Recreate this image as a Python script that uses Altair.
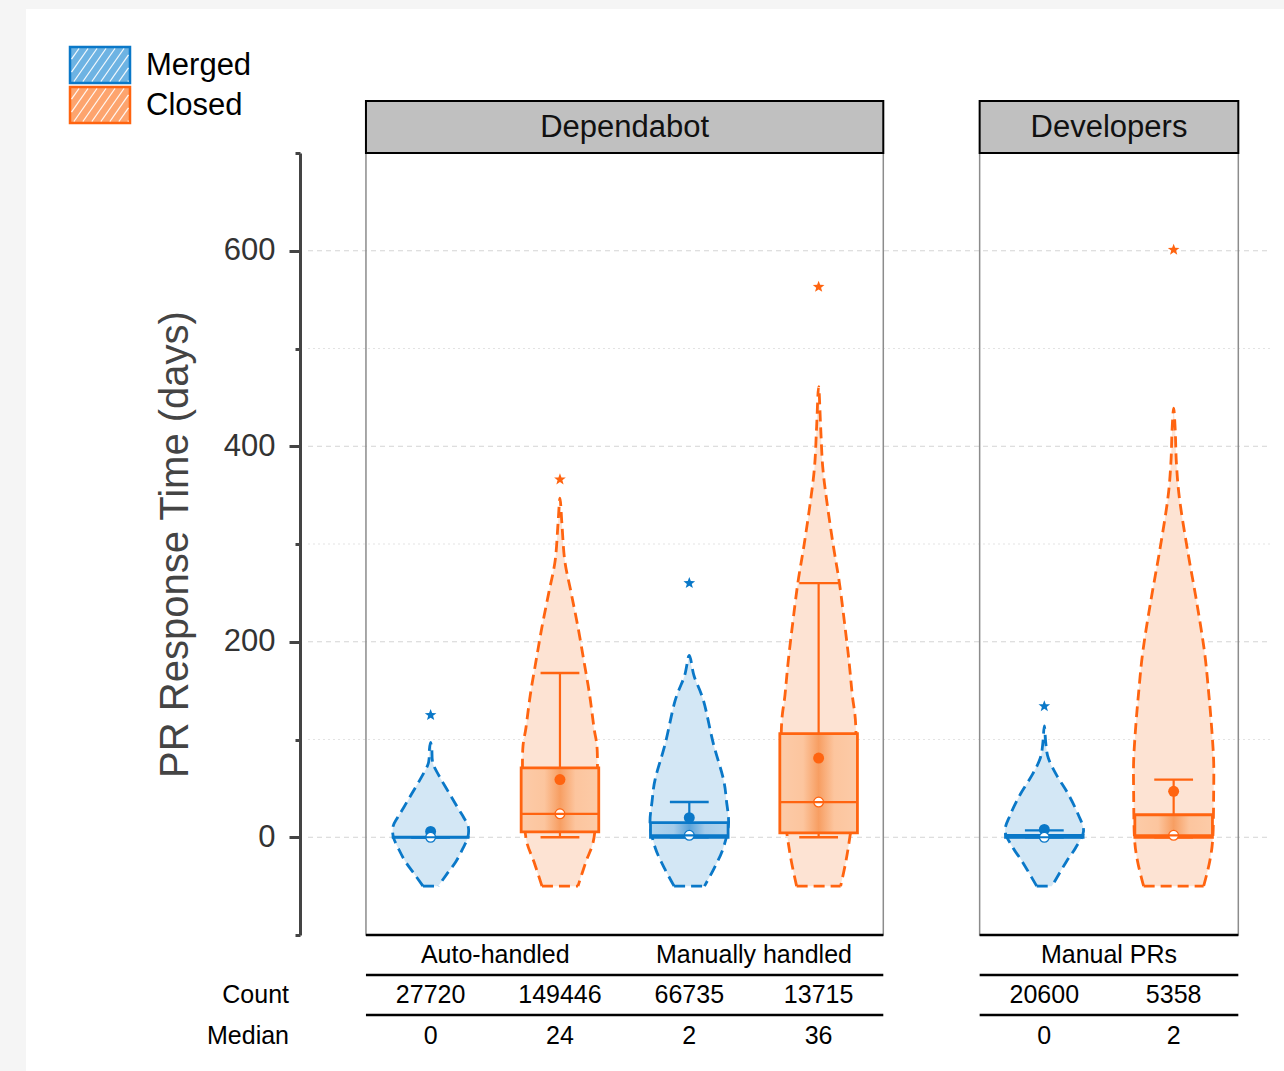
import math
import altair as alt
import pandas as pd

# ---------------- data ----------------
panel_names = ["Dependabot", "Developers"]
panel_slots = [4, 2]
group_names = ["Auto-handled", "Manually handled", "Manual PRs"]
group_panels = ["Dependabot", "Dependabot", "Developers"]
status_names = ["Merged", "Closed"]
row_labels = ["Count", "Median"]

series_group = ["Auto-handled", "Auto-handled", "Manually handled", "Manually handled",
                "Manual PRs", "Manual PRs"]
series_status = ["Merged", "Closed", "Merged", "Closed", "Merged", "Closed"]
counts = [27720, 149446, 66735, 13715, 20600, 5358]
medians = [0, 24, 2, 36, 0, 2]
means = [6, 59, 20, 81, 8, 47]
q1 = [0, 5.5, 0, 4.4, 0, 0]
q3 = [0, 71, 15, 106, 2, 23]
whisker_low = [0, 0, 0, 0, 0, 0]
whisker_high = [0, 168, 36, 260, 7, 59]
maxima = [125, 366, 260, 563, 134, 601]

# violin profiles: value (days) and relative half-width (0..1)
violin_values = [
    [-50, -38, -25, -12, 0, 11, 20, 30, 44, 60, 73, 80, 90, 97],
    [-50, -25, -5, 20, 50, 90, 112, 146, 180, 215, 250, 283, 320, 347],
    [-50, -31, -11, 13, 37, 60, 96, 139, 165, 186],
    [-50, -25, 0, 44, 112, 146, 180, 215, 260, 300, 345, 380, 420, 461],
    [-50, -25, -11, 6, 23, 44, 64, 81, 95, 114],
    [-50, -25, 0, 44, 78, 112, 146, 190, 242, 293, 345, 382, 416, 439],
]
violin_widths = [
    [.19, .40, .63, .80, .93, .94, .83, .68, .48, .25, .08, .04, .03, 0],
    [.45, .65, .83, .90, .93, .93, .85, .74, .60, .45, .28, .12, .05, 0],
    [.38, .63, .85, .98, .93, .85, .60, .36, .12, 0],
    [.55, .68, .78, .93, .93, .84, .76, .66, .52, .36, .20, .10, .05, 0],
    [.19, .55, .78, .98, .85, .60, .30, .10, .04, 0],
    [.75, .90, .98, 1.0, 1.0, .95, .88, .77, .57, .35, .15, .07, .04, 0],
]

grid_major = [0, 200, 400, 600]
grid_minor = [100, 300, 500]
axis_values = [-100, 0, 100, 200, 300, 400, 500, 600, 700]

# ---------------- layout / style ----------------
W, H = 970, 782
X_DOMAIN = [-0.51, 6.99]
Y_DOMAIN = [-100, 700]
PX = W / (X_DOMAIN[1] - X_DOMAIN[0])
PANEL_GAP = 0.745
BOX_HALF = 0.3
CAP_HALF = 0.15
VIOLIN_HALF = 40 / PX
FONT = "Liberation Sans"

STRONG = {"Merged": "#0a78c8", "Closed": "#ff6410"}
PALE = {"Merged": "#d3e7f5", "Closed": "#fde3d3"}
LEG_FILL = {"Merged": "#6db3e3", "Closed": "#fda46e"}
GRAD = {
    "Merged": alt.Gradient(gradient="linear", x1=0, x2=1, y1=0, y2=0, stops=[
        alt.GradientStop(offset=0, color="#b0d4ee"),
        alt.GradientStop(offset=0.3, color="#a4cbe9"),
        alt.GradientStop(offset=0.5, color="#5aa3da"),
        alt.GradientStop(offset=0.7, color="#a4cbe9"),
        alt.GradientStop(offset=1, color="#b0d4ee")]),
    "Closed": alt.Gradient(gradient="linear", x1=0, x2=1, y1=0, y2=0, stops=[
        alt.GradientStop(offset=0, color="#fccba8"),
        alt.GradientStop(offset=0.3, color="#fcc59e"),
        alt.GradientStop(offset=0.5, color="#f79e62"),
        alt.GradientStop(offset=0.7, color="#fcc59e"),
        alt.GradientStop(offset=1, color="#fccba8")]),
}

star_pts = []
for k in range(10):
    ang = math.radians(-90 + 36 * k)
    r = 1.0 if k % 2 == 0 else 0.42
    star_pts.append(f"{r*math.cos(ang):.3f},{r*math.sin(ang):.3f}")
STAR = "M" + " L".join(star_pts) + " Z"

xs = alt.Scale(domain=X_DOMAIN, nice=False, zero=False)
ys = alt.Scale(domain=Y_DOMAIN, nice=False, zero=False)

tick_cond = {"condition": {"test": "datum.value % 200 === 0", "value": 11}, "value": 5}
yaxis = alt.Axis(values=axis_values, labelExpr="datum.value % 200 === 0 ? datum.label : ''",
                 tickSize=tick_cond, tickWidth=3, tickColor="#444", domainColor="#444",
                 domainWidth=3, labelFontSize=31, labelColor="#333", labelFont=FONT,
                 labelPadding=14, title="PR Response Time (days)", titleFontSize=40,
                 titleFont=FONT, titleFontWeight="normal", titleColor="#444",
                 titlePadding=28, grid=False, offset=0, zindex=1)


def Y(field):
    return alt.Y(field, scale=ys, axis=yaxis)


def X(field):
    return alt.X(field, scale=xs, axis=None)


# ---------------- derived tables ----------------
panel_start = {}
cur = 0.0
for name, n in zip(panel_names, panel_slots):
    panel_start[name] = cur
    cur += n + PANEL_GAP
group_panel = dict(zip(group_names, group_panels))
slot = {p: 0 for p in panel_names}
centers = []
for g in series_group:
    p = group_panel[g]
    centers.append(panel_start[p] + slot[p] + 0.5)
    slot[p] += 1

panel_df = pd.DataFrame({
    "name": panel_names,
    "start": [panel_start[p] for p in panel_names],
    "end": [panel_start[p] + n for p, n in zip(panel_names, panel_slots)],
})
panel_df["mid"] = (panel_df["start"] + panel_df["end"]) / 2

group_df = pd.DataFrame({
    "name": group_names,
    "mid": [sum(c for c, g in zip(centers, series_group) if g == gn) /
            series_group.count(gn) for gn in group_names],
})

box_df = pd.DataFrame({
    "c": centers, "status": series_status, "count": counts, "med": medians,
    "mean": means, "q1": q1, "q3": q3, "wl": whisker_low, "wh": whisker_high,
    "mx": maxima,
})
box_df["lo"] = box_df["c"] - BOX_HALF
box_df["hi"] = box_df["c"] + BOX_HALF
box_df["clo"] = box_df["c"] - CAP_HALF
box_df["chi"] = box_df["c"] + CAP_HALF
box_df["col"] = box_df["status"].map(STRONG)
box_df["count_s"] = box_df["count"].astype(str)
box_df["med_s"] = box_df["med"].astype(str)

area_rows, line_rows, base_rows = [], [], []
for k in range(len(centers)):
    c = centers[k]
    st = series_status[k]
    vals, wids = violin_values[k], violin_widths[k]
    for v, w in zip(vals, wids):
        area_rows.append(dict(sid=k, v=v, lo=c - w * VIOLIN_HALF,
                              hi=c + w * VIOLIN_HALF, fillc=PALE[st]))
    pts = [(c - w * VIOLIN_HALF, v) for v, w in zip(vals, wids)]
    pts += [(c + w * VIOLIN_HALF, v) for v, w in reversed(list(zip(vals, wids))[:-1])]
    for i, (x, v) in enumerate(pts):
        line_rows.append(dict(sid=k, i=i, x=x, v=v, col=STRONG[st]))
    base_rows.append(dict(sid=k, v=vals[0], lo=c - wids[0] * VIOLIN_HALF,
                          hi=c + wids[0] * VIOLIN_HALF, col=STRONG[st]))
area_df = pd.DataFrame(area_rows)
line_df = pd.DataFrame(line_rows)
base_df = pd.DataFrame(base_rows)

# legend (pixel positions relative to plot origin)
leg_rows, hatch_rows = [], []
for i, st in enumerate(status_names):
    xl, xr = -230, -170
    yt, yb = -106 + 40 * i, -70 + 40 * i
    leg_rows.append(dict(label=st, x1=xl, x2=xr, y1=yt, y2=yb, ty=(yt + yb) / 2 + 1,
                         tx=-154, fillc=LEG_FILL[st], col=STRONG[st]))
    h = (yb - yt) - 3
    dx = 0.7 * h
    bx = xl - dx
    while bx < xr:
        t0 = max(0.0, (xl + 1.5 - bx) / dx)
        t1 = min(1.0, (xr - 1.5 - bx) / dx)
        if t1 > t0:
            hatch_rows.append(dict(x1=bx + dx * t0, y1=yb - 1.5 - h * t0,
                                   x2=bx + dx * t1, y2=yb - 1.5 - h * t1))
        bx += 9
leg_df = pd.DataFrame(leg_rows)
hatch_df = pd.DataFrame(hatch_rows)

page_df = pd.DataFrame({"x1": [-274], "x2": [W + 14], "y1": [-144], "y2": [H + 136]})
rowlab_df = pd.DataFrame({"label": row_labels, "px": [-11, -11],
                          "py": [H + 60, H + 101]})
major_df = pd.DataFrame({"v": grid_major})
minor_df = pd.DataFrame({"v": grid_minor})

# ---------------- layers ----------------
page = alt.Chart(page_df).mark_rect(fill="white").encode(
    x=alt.X("x1:Q", scale=None), x2="x2:Q",
    y=alt.Y("y1:Q", scale=None), y2="y2:Q")

grid_major_l = alt.Chart(major_df).mark_rule(color="#d4d4d4", strokeWidth=1,
                                             strokeDash=[5, 4]).encode(
    x=alt.value(8), x2=alt.value(W), y=Y("v:Q"))
grid_minor_l = alt.Chart(minor_df).mark_rule(color="#e3e3e3", strokeWidth=1,
                                             strokeDash=[2, 3]).encode(
    x=alt.value(8), x2=alt.value(W), y=Y("v:Q"))

frame = alt.Chart(panel_df).mark_rect(fill="white", fillOpacity=0, stroke="#8c8c8c",
                                      strokeWidth=1.5).encode(
    x=X("start:Q"), x2="end:Q", y=alt.value(0), y2=alt.value(H))
frame_bottom = alt.Chart(panel_df).mark_rule(color="black", strokeWidth=2.5).encode(
    x=X("start:Q"), x2="end:Q", y=alt.value(H))

v_area = alt.Chart(area_df).mark_area(orient="horizontal", interpolate="cardinal").encode(
    y=Y("v:Q"), x=X("lo:Q"), x2="hi:Q",
    fill=alt.Fill("fillc:N", scale=None), detail="sid:N")
v_line = alt.Chart(line_df).mark_line(interpolate="cardinal", strokeDash=[11, 6],
                                      strokeWidth=2.8).encode(
    x=X("x:Q"), y=Y("v:Q"),
    order="i:Q", detail="sid:N", stroke=alt.Stroke("col:N", scale=None))
v_base = alt.Chart(base_df).mark_rule(strokeDash=[11, 6], strokeWidth=2.8).encode(
    x=X("lo:Q"), x2="hi:Q", y=Y("v:Q"), stroke=alt.Stroke("col:N", scale=None))

up = box_df[box_df["wh"] > box_df["q3"]]
dn = box_df[box_df["q1"] > box_df["wl"]]
whisk_up = alt.Chart(up).mark_rule(strokeWidth=2.2).encode(
    x=X("c:Q"), y=Y("q3:Q"), y2="wh:Q", stroke=alt.Stroke("col:N", scale=None))
whisk_dn = alt.Chart(dn).mark_rule(strokeWidth=2.2).encode(
    x=X("c:Q"), y=Y("wl:Q"), y2="q1:Q", stroke=alt.Stroke("col:N", scale=None))
cap_up = alt.Chart(box_df).mark_rule(strokeWidth=2.4).encode(
    x=X("clo:Q"), x2="chi:Q", y=Y("wh:Q"), stroke=alt.Stroke("col:N", scale=None))
cap_dn = alt.Chart(box_df).mark_rule(strokeWidth=2.4).encode(
    x=X("clo:Q"), x2="chi:Q", y=Y("wl:Q"), stroke=alt.Stroke("col:N", scale=None))

boxes = []
for st in status_names:
    boxes.append(alt.Chart(box_df[box_df["status"] == st]).mark_rect(
        fill=GRAD[st], stroke=STRONG[st], strokeWidth=2.8).encode(
        x=X("lo:Q"), x2="hi:Q", y=Y("q1:Q"), y2="q3:Q"))

mean_dot = alt.Chart(box_df).mark_circle(size=120, opacity=1).encode(
    x=X("c:Q"), y=Y("mean:Q"), fill=alt.Fill("col:N", scale=None))
med_circ = alt.Chart(box_df).mark_point(shape="circle", filled=True, fill="white",
                                        size=95, strokeWidth=1.3, opacity=1).encode(
    x=X("c:Q"), y=Y("med:Q"), stroke=alt.Stroke("col:N", scale=None))
med_line = alt.Chart(box_df).mark_rule(strokeWidth=2.2).encode(
    x=X("lo:Q"), x2="hi:Q", y=Y("med:Q"), stroke=alt.Stroke("col:N", scale=None))
stars = alt.Chart(box_df).mark_point(shape=STAR, filled=True, size=150, opacity=1).encode(
    x=X("c:Q"), y=Y("mx:Q"), fill=alt.Fill("col:N", scale=None))

header = alt.Chart(panel_df).mark_rect(fill="#c0c0c0", stroke="black", strokeWidth=2).encode(
    x=X("start:Q"), x2="end:Q", y=alt.value(-52), y2=alt.value(0))
header_txt = alt.Chart(panel_df).mark_text(fontSize=31, font=FONT, color="#111",
                                           baseline="middle").encode(
    x=X("mid:Q"), y=alt.value(-25), text="name:N")

tline1 = alt.Chart(panel_df).mark_rule(color="black", strokeWidth=2.5).encode(
    x=X("start:Q"), x2="end:Q", y=alt.value(H + 40))
tline2 = alt.Chart(panel_df).mark_rule(color="black", strokeWidth=2.5).encode(
    x=X("start:Q"), x2="end:Q", y=alt.value(H + 80))
grp_txt = alt.Chart(group_df).mark_text(fontSize=25, font=FONT, color="black",
                                        baseline="middle").encode(
    x=X("mid:Q"), y=alt.value(H + 20), text="name:N")
cnt_txt = alt.Chart(box_df).mark_text(fontSize=25, font=FONT, color="black",
                                      baseline="middle").encode(
    x=X("c:Q"), y=alt.value(H + 60), text="count_s:N")
med_txt = alt.Chart(box_df).mark_text(fontSize=25, font=FONT, color="black",
                                      baseline="middle").encode(
    x=X("c:Q"), y=alt.value(H + 101), text="med_s:N")
row_txt = alt.Chart(rowlab_df).mark_text(fontSize=25, font=FONT, color="black",
                                         baseline="middle", align="right").encode(
    x=alt.X("px:Q", scale=None), y=alt.Y("py:Q", scale=None), text="label:N")

leg_rect = alt.Chart(leg_df).mark_rect(strokeWidth=2.5).encode(
    x=alt.X("x1:Q", scale=None), x2="x2:Q", y=alt.Y("y1:Q", scale=None), y2="y2:Q",
    fill=alt.Fill("fillc:N", scale=None), stroke=alt.Stroke("col:N", scale=None))
leg_hatch = alt.Chart(hatch_df).mark_rule(color="white", strokeWidth=1.3, opacity=0.9).encode(
    x=alt.X("x1:Q", scale=None), x2="x2:Q", y=alt.Y("y1:Q", scale=None), y2="y2:Q")
leg_txt = alt.Chart(leg_df).mark_text(fontSize=31, font=FONT, color="black",
                                      baseline="middle", align="left").encode(
    x=alt.X("tx:Q", scale=None), y=alt.Y("ty:Q", scale=None), text="label:N")

chart = alt.layer(
    page, grid_minor_l, grid_major_l, frame, frame_bottom,
    v_area, v_line, v_base, whisk_up, whisk_dn, cap_up, cap_dn, *boxes,
    mean_dot, med_circ, med_line, stars,
    header, header_txt, tline1, tline2, grp_txt, cnt_txt, med_txt, row_txt,
    leg_rect, leg_hatch, leg_txt,
).properties(
    width=W, height=H,
    autosize=alt.AutoSizeParams(type="none"),
    padding={"left": 300, "top": 153, "right": 14, "bottom": 136},
    background="#f5f5f5",
).configure_view(stroke=None).configure(font=FONT)

chart.save("out.html", embed_options={"renderer": "svg", "actions": False})
